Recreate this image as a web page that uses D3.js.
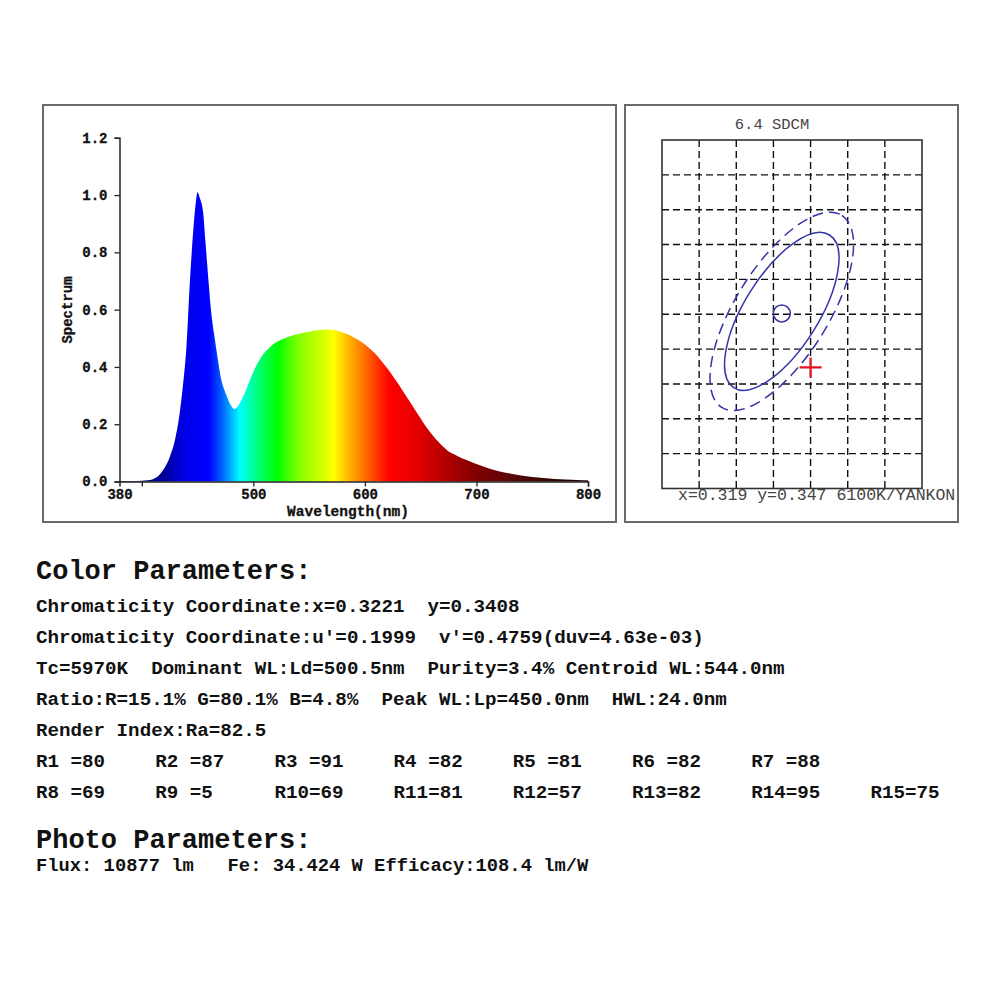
<!DOCTYPE html>
<html>
<head>
<meta charset="utf-8">
<script src="https://cdn.jsdelivr.net/npm/d3@7"></script>
<style>
  body { margin: 0; background: #fff; }
  text { font-family: "Liberation Mono", "Courier New", monospace; }
</style>
</head>
<body>
<div id="chart"></div>
<script>
// spectrum (nm, relative)
const wavelengths = [380, 390, 400, 405, 410, 415, 420, 425, 430, 434, 437, 440, 443, 446, 448, 450, 452, 455, 457, 460,
  462, 465, 468, 471, 474, 477, 480, 483, 486, 490, 494, 498, 502, 506, 510, 515, 520, 525, 530, 535,
  540, 545, 550, 555, 560, 565, 570, 575, 580, 585, 590, 595, 600, 605, 610, 615, 620, 625, 630, 635,
  640, 645, 650, 655, 660, 665, 670, 675, 680, 685, 690, 695, 700, 710, 720, 730, 740, 750, 760, 770,
  780, 790, 800];
const spectrum = [0.002, 0.002, 0.003, 0.004, 0.008, 0.02, 0.045, 0.085, 0.15, 0.24, 0.34, 0.47, 0.69, 0.87, 0.96, 1.01, 0.99, 0.94, 0.84, 0.69,
  0.60, 0.51, 0.43, 0.36, 0.32, 0.29, 0.265, 0.253, 0.262, 0.29, 0.325, 0.365, 0.40, 0.428, 0.45, 0.47, 0.485, 0.495, 0.503, 0.51,
  0.515, 0.519, 0.523, 0.527, 0.529, 0.531, 0.53, 0.527, 0.52, 0.513, 0.503, 0.492, 0.478, 0.462, 0.443, 0.42, 0.395, 0.368, 0.34, 0.31,
  0.28, 0.25, 0.22, 0.19, 0.165, 0.142, 0.122, 0.105, 0.095, 0.085, 0.077, 0.069, 0.061, 0.047, 0.036, 0.028, 0.021, 0.016, 0.012, 0.009,
  0.007, 0.005, 0.004];
const xTicks = [380, 400, 500, 600, 700, 800];
const xTickLabels = ["380", "", "500", "600", "700", "800"];
const yTicks = [0, 0.2, 0.4, 0.6, 0.8, 1.0, 1.2];

// colour of each wavelength band
const bandWl = [380, 420, 440, 460, 470, 480, 488, 500, 510, 522, 540, 560, 572, 582, 592, 602, 612, 622, 650, 680, 700, 730, 760, 800];
const bandColor = ["#000070", "#00009a", "#0000ee", "#0000ff", "#0050ff", "#00b0ff", "#00ffff", "#00ff99", "#00ff50", "#00ff00",
  "#80ff00", "#ccff00", "#ffff00", "#ffc800", "#ff9600", "#ff6400", "#ff3000", "#ff0000", "#e00000", "#a40000",
  "#800000", "#5a0808", "#380404", "#200000"];

// chromaticity panel
const sdcmX = [0.3061, 0.3341];
const sdcmY = [0.3269, 0.3669];
const target = [0.319, 0.347];
const measured = [0.3221, 0.3408];
const ellipseAxes = [[0.0097, 0.0040], [0.0122, 0.0050]];
const sdcmValue = 6.4;
const targetName = "6100K/YANKON";

// text block
const colorLines = [
  "Chromaticity Coordinate:x=0.3221  y=0.3408",
  "Chromaticity Coordinate:u'=0.1999  v'=0.4759(duv=4.63e-03)",
  "Tc=5970K  Dominant WL:Ld=500.5nm  Purity=3.4% Centroid WL:544.0nm",
  "Ratio:R=15.1% G=80.1% B=4.8%  Peak WL:Lp=450.0nm  HWL:24.0nm",
  "Render Index:Ra=82.5"
];
const riNames = ["R1", "R2", "R3", "R4", "R5", "R6", "R7", "R8", "R9", "R10", "R11", "R12", "R13", "R14", "R15"];
const riValues = [80, 87, 91, 82, 81, 82, 88, 69, 5, 69, 81, 57, 82, 95, 75];
const photoLine = "Flux: 10877 lm   Fe: 34.424 W Efficacy:108.4 lm/W";

const svg = d3.select("#chart").append("svg")
  .attr("width", 1000)
  .attr("height", 1000);

// panel frames
svg.append("rect").attr("x", 43).attr("y", 105).attr("width", 573).attr("height", 417)
  .attr("fill", "none").attr("stroke", "#6a6a6a").attr("stroke-width", 2);
svg.append("rect").attr("x", 625).attr("y", 105).attr("width", 333).attr("height", 417)
  .attr("fill", "none").attr("stroke", "#6a6a6a").attr("stroke-width", 2);

// ---- spectrum ----
let xScale = d3.scaleLinear().domain([380, 800]).range([119.5, 588]);
let yScale = d3.scaleLinear().domain([0, 1.2]).range([481.5, 137.8]);

let grad = svg.append("defs").append("linearGradient")
  .attr("id", "rainbow")
  .attr("gradientUnits", "userSpaceOnUse")
  .attr("x1", xScale(380)).attr("x2", xScale(800))
  .attr("y1", 0).attr("y2", 0);
grad.selectAll("stop")
  .data(bandWl)
  .enter()
  .append("stop")
  .attr("offset", d => (d - 380) / 420)
  .attr("stop-color", (d, i) => bandColor[i]);

let area = d3.area()
  .x((d, i) => xScale(wavelengths[i]))
  .y0(yScale(0))
  .y1(d => yScale(d))
  .curve(d3.curveMonotoneX);

svg.append("path")
  .datum(spectrum)
  .attr("d", area)
  .attr("fill", "url(#rainbow)");

let xAxis = svg.append("g")
  .attr("transform", "translate(0," + yScale(0) + ")")
  .call(d3.axisBottom(xScale).tickValues(xTicks).tickSize(5).tickPadding(3)
    .tickFormat((d, i) => xTickLabels[i]));
xAxis.selectAll(".tick").filter(d => d == 380).select("line").remove();

let yAxis = svg.append("g")
  .attr("transform", "translate(" + xScale(380) + ",0)")
  .call(d3.axisLeft(yScale).tickValues(yTicks).tickSize(5).tickPadding(7)
    .tickFormat(d3.format(".1f")));

[xAxis, yAxis].forEach(a => {
  a.select(".domain").attr("stroke", "#222").attr("stroke-width", 1.5);
  a.selectAll(".tick line").attr("stroke", "#222").attr("stroke-width", 1.3);
  a.selectAll("text")
    .attr("font-family", "'Liberation Mono', 'Courier New', monospace")
    .attr("font-size", 14).attr("font-weight", "bold").attr("fill", "#111")
    .attr("stroke", "#111").attr("stroke-width", 0.3);
});

svg.append("text")
  .attr("x", 348).attr("y", 516)
  .attr("text-anchor", "middle")
  .attr("font-size", 14.5).attr("font-weight", "bold").attr("fill", "#111")
  .attr("stroke", "#111").attr("stroke-width", 0.3)
  .text("Wavelength(nm)");

svg.append("text")
  .attr("transform", "translate(72,310) rotate(-90)")
  .attr("text-anchor", "middle")
  .attr("font-size", 14).attr("font-weight", "bold").attr("fill", "#111")
  .attr("stroke", "#111").attr("stroke-width", 0.3)
  .text("Spectrum");

// ---- SDCM ellipse chart ----
let cx = d3.scaleLinear().domain(sdcmX).range([662, 922]);
let cy = d3.scaleLinear().domain(sdcmY).range([488.5, 140]);

let gridX = d3.range(1, 7).map(i => sdcmX[0] + i * 0.004);
let gridY = d3.range(1, 10).map(i => sdcmY[0] + i * 0.004);

let grid = svg.append("g");
grid.selectAll(".gx")
  .data(gridX)
  .enter()
  .append("line")
  .attr("x1", d => cx(d)).attr("x2", d => cx(d))
  .attr("y1", cy(sdcmY[1])).attr("y2", cy(sdcmY[0]))
  .attr("stroke", "#111").attr("stroke-width", 1.4).attr("stroke-dasharray", "7,4");
grid.selectAll(".gy")
  .data(gridY)
  .enter()
  .append("line")
  .attr("x1", cx(sdcmX[0])).attr("x2", cx(sdcmX[1]))
  .attr("y1", d => cy(d)).attr("y2", d => cy(d))
  .attr("stroke", "#111").attr("stroke-width", 1.4).attr("stroke-dasharray", "7,4");

svg.append("rect")
  .attr("x", cx(sdcmX[0])).attr("y", cy(sdcmY[1]))
  .attr("width", cx(sdcmX[1]) - cx(sdcmX[0]))
  .attr("height", cy(sdcmY[0]) - cy(sdcmY[1]))
  .attr("fill", "none").attr("stroke", "#333").attr("stroke-width", 1.6);

svg.selectAll(".ell")
  .data(ellipseAxes)
  .enter()
  .append("ellipse")
  .attr("cx", 0).attr("cy", 0)
  .attr("rx", d => cx(target[0] + d[0]) - cx(target[0]))
  .attr("ry", d => cx(target[0] + d[1]) - cx(target[0]))
  .attr("transform", "translate(" + cx(target[0]) + "," + (cy(target[1]) - 2) + ") rotate(-58)")
  .attr("fill", "none")
  .attr("stroke", "#3535a8")
  .attr("stroke-width", 1.5)
  .attr("stroke-dasharray", (d, i) => i == 0 ? null : "11,6");

svg.append("circle")
  .attr("cx", cx(target[0])).attr("cy", cy(target[1]))
  .attr("r", 8.5)
  .attr("fill", "none").attr("stroke", "#3535a8").attr("stroke-width", 1.5);

let mx = cx(measured[0]), my = cy(measured[1]);
svg.append("path")
  .attr("d", "M" + (mx - 11) + "," + my + "H" + (mx + 11) + "M" + mx + "," + (my - 10) + "V" + (my + 10))
  .attr("stroke", "#e0141e").attr("stroke-width", 2.2);

svg.append("text")
  .attr("x", 772).attr("y", 129)
  .attr("text-anchor", "middle")
  .attr("font-size", 15.5).attr("fill", "#444")
  .text(sdcmValue + " SDCM");

svg.append("text")
  .attr("x", 678).attr("y", 500)
  .attr("font-size", 16.5).attr("fill", "#444")
  .text("x=" + target[0].toFixed(3) + " y=" + target[1].toFixed(3) + " " + targetName);

// ---- parameter text ----
svg.append("text")
  .attr("x", 36).attr("y", 579)
  .attr("font-size", 27).attr("font-weight", "bold").attr("fill", "#111")
  .text("Color Parameters:");

svg.selectAll(".cl")
  .data(colorLines)
  .enter()
  .append("text")
  .attr("x", 36).attr("y", (d, i) => 612 + i * 31)
  .attr("font-size", 19.2).attr("font-weight", "bold").attr("fill", "#111")
  .style("white-space", "pre")
  .text(d => d);

// render indices: R1-R7 on the first row, R8-R15 on the second
svg.selectAll(".ri")
  .data(riValues)
  .enter()
  .append("text")
  .attr("x", (d, i) => 36 + (i < 7 ? i : i - 7) * 119.2)
  .attr("y", (d, i) => i < 7 ? 767 : 798)
  .attr("font-size", 19.2).attr("font-weight", "bold").attr("fill", "#111")
  .style("white-space", "pre")
  .text((d, i) => (riNames[i] + " ").slice(0, 3) + "=" + d);

svg.append("text")
  .attr("x", 36).attr("y", 848)
  .attr("font-size", 27).attr("font-weight", "bold").attr("fill", "#111")
  .text("Photo Parameters:");

svg.append("text")
  .attr("x", 36).attr("y", 871)
  .attr("font-size", 18.8).attr("font-weight", "bold").attr("fill", "#111")
  .style("white-space", "pre")
  .text(photoLine);
</script>
</body>
</html>
